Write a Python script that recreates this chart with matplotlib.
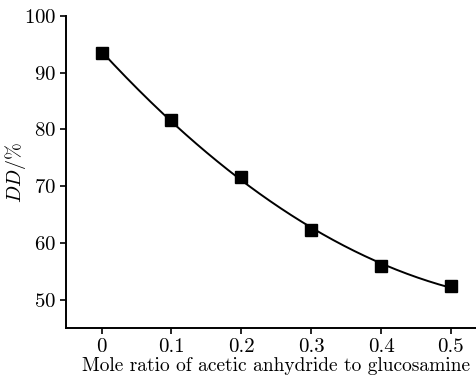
import numpy as np
import matplotlib

matplotlib.use("Agg")
import matplotlib.pyplot as plt  # noqa: E402

plt.rcParams["font.family"] = "cmr10"
plt.rcParams["mathtext.fontset"] = "cm"
plt.rcParams["axes.formatter.use_mathtext"] = True

ratio = [0, 0.1, 0.2, 0.3, 0.4, 0.5]
dd = [93.5, 81.6, 71.6, 62.3, 56.0, 52.4]
xticks = [0, 0.1, 0.2, 0.3, 0.4, 0.5]
xticklabels = ["0", "0.1", "0.2", "0.3", "0.4", "0.5"]
yticks = [50, 60, 70, 80, 90, 100]

fig = plt.figure(figsize=(4.76, 3.78), dpi=100)
ax = fig.add_axes([66 / 476, 50 / 378, 1 - 66 / 476, 312 / 378])

# smooth quadratic fit through the points
coef = np.polyfit(ratio, dd, 2)
xs = np.linspace(min(ratio), max(ratio), 200)
ax.plot(xs, np.polyval(coef, xs), color="black", lw=1.4)
ax.plot(ratio, dd, "s", color="black", ms=9)

ax.set_xlim(-0.051, 0.536)
ax.set_ylim(45, 100)
ax.set_xticks(xticks)
ax.set_xticklabels(xticklabels)
ax.set_yticks(yticks)
for s in ["top", "right"]:
    ax.spines[s].set_visible(False)
for s in ["left", "bottom"]:
    ax.spines[s].set_linewidth(1.4)
ax.tick_params(direction="out", length=4, width=1.2, labelsize=15, pad=3)
ax.set_xlabel("Mole ratio of acetic anhydride to glucosamine", fontsize=14)
ax.xaxis.set_label_coords(0.512, -29 / 312)
ax.set_ylabel(r"$DD$/%", fontsize=14.5)
ax.yaxis.set_label_coords(-38 / 410, 0.5)

fig.savefig("out.png", dpi=100)
